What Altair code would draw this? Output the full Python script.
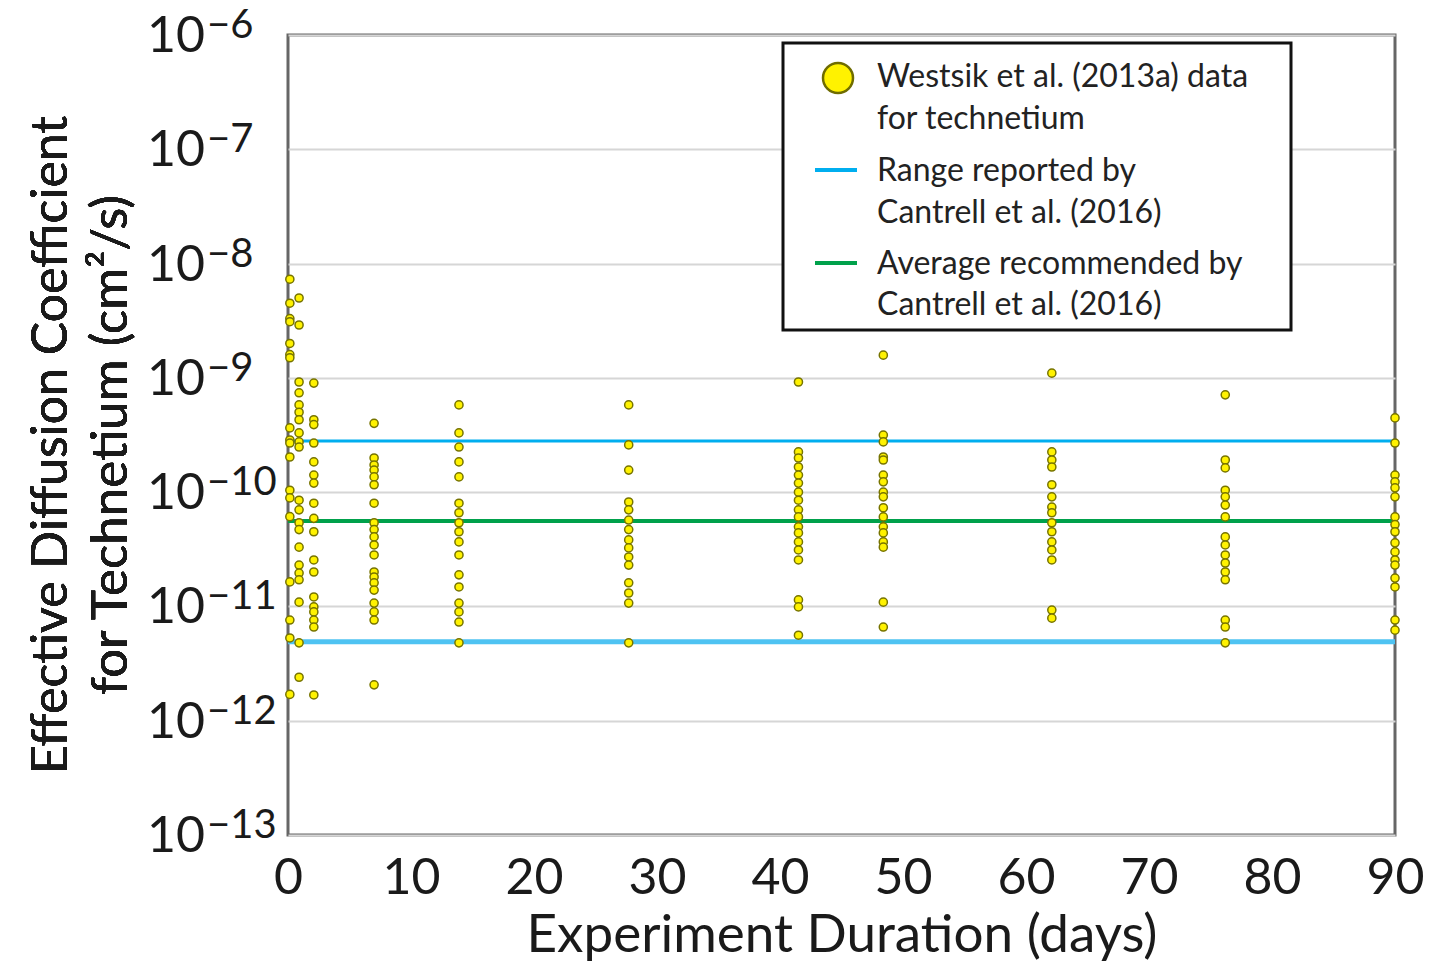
import altair as alt
import pandas as pd

FONT = "Lato"

# ---- data ----
days = [0.15, 0.9, 2.1, 7.0, 13.9, 27.7, 41.5, 48.4, 62.1, 76.2, 90.0]

day0 = [7.3e-9, 4.5e-9, 3.3e-9, 3.1e-9, 2.0e-9, 1.6e-9, 1.5e-9, 3.65e-10, 2.86e-10, 2.69e-10,
        2.03e-10, 1.04e-10, 8.9e-11, 6.1e-11, 1.64e-11, 7.6e-12, 5.3e-12, 1.7e-12]
day1 = [5.0e-9, 2.9e-9, 9.2e-10, 7.4e-10, 5.8e-10, 5.0e-10, 4.3e-10, 3.3e-10, 2.75e-10, 2.48e-10,
        8.5e-11, 7.0e-11, 5.4e-11, 4.7e-11, 3.3e-11, 2.3e-11, 1.96e-11, 1.71e-11, 1.09e-11,
        4.8e-12, 2.4e-12]
day2 = [9.0e-10, 4.3e-10, 3.9e-10, 2.69e-10, 1.84e-10, 1.41e-10, 1.2e-10, 8.0e-11, 5.9e-11, 4.5e-11,
        2.55e-11, 2.0e-11, 1.21e-11, 9.9e-12, 8.95e-12, 7.6e-12, 6.6e-12, 1.68e-12]
day7 = [4.0e-10, 1.99e-10, 1.73e-10, 1.56e-10, 1.36e-10, 1.16e-10, 8.0e-11, 5.4e-11, 4.7e-11,
        4.06e-11, 3.45e-11, 2.82e-11, 2.0e-11, 1.81e-11, 1.61e-11, 1.39e-11, 1.07e-11, 8.95e-12,
        7.6e-12, 2.06e-12]
day14 = [5.8e-10, 3.3e-10, 2.48e-10, 1.84e-10, 1.36e-10, 8.0e-11, 6.6e-11, 5.4e-11, 4.5e-11,
         3.67e-11, 2.82e-11, 1.89e-11, 1.48e-11, 1.07e-11, 8.95e-12, 7.3e-12, 4.8e-12]
day28 = [5.8e-10, 2.59e-10, 1.56e-10, 8.2e-11, 7.0e-11, 5.7e-11, 4.7e-11, 3.82e-11, 3.25e-11,
         2.71e-11, 2.3e-11, 1.61e-11, 1.31e-11, 1.07e-11, 4.8e-12]
day41 = [9.2e-10, 2.25e-10, 1.99e-10, 1.66e-10, 1.41e-10, 1.2e-10, 1.0e-10, 8.5e-11, 7.0e-11,
         6.07e-11, 4.97e-11, 4.4e-11, 3.67e-11, 3.12e-11, 2.55e-11, 1.14e-11, 9.9e-12, 5.6e-12]
day48 = [1.58e-9, 3.16e-10, 2.75e-10, 2.03e-10, 1.91e-10, 1.41e-10, 1.23e-10, 1.0e-10, 9.1e-11,
         7.3e-11, 6.07e-11, 4.97e-11, 4.4e-11, 3.67e-11, 3.3e-11, 1.09e-11, 6.6e-12]
day62 = [1.1e-9, 2.25e-10, 1.91e-10, 1.66e-10, 1.16e-10, 9.1e-11, 7.4e-11, 6.6e-11, 5.4e-11,
         4.5e-11, 3.67e-11, 3.12e-11, 2.55e-11, 9.3e-12, 7.9e-12]
day76 = [7.1e-10, 1.91e-10, 1.63e-10, 1.04e-10, 9.1e-11, 7.7e-11, 6.07e-11, 4.06e-11, 3.45e-11,
         2.82e-11, 2.4e-11, 2.0e-11, 1.71e-11, 7.6e-12, 6.6e-12, 4.8e-12]
day90 = [4.46e-10, 2.69e-10, 1.41e-10, 1.23e-10, 1.09e-10, 9.1e-11, 6.07e-11, 5.2e-11, 4.5e-11,
         3.6e-11, 3.0e-11, 2.55e-11, 2.3e-11, 1.77e-11, 1.48e-11, 7.6e-12, 6.2e-12]

series = [day0, day1, day2, day7, day14, day28, day41, day48, day62, day76, day90]

range_low = 4.9e-12
range_high = 2.8e-10
average = 5.6e-11

tick_values = [1e-6, 1e-7, 1e-8, 1e-9, 1e-10, 1e-11, 1e-12, 1e-13]
tick_exps = ["\u22126", "\u22127", "\u22128", "\u22129", "\u221210", "\u221211", "\u221212", "\u221213"]
x_ticks = [0, 10, 20, 30, 40, 50, 60, 70, 80, 90]

# ---- tables ----
rows = []
for d, vals in zip(days, series):
    for v in vals:
        rows.append({"day": d, "value": v})
pts = pd.DataFrame(rows)
ticks_df = pd.DataFrame({"value": tick_values, "exp": tick_exps})
blue_df = pd.DataFrame({"value": [range_high]})
blue2_df = pd.DataFrame({"value": [range_low]})
green_df = pd.DataFrame({"value": [average]})

yscale = alt.Scale(type="log", domain=[1e-13, 1e-6])
xscale = alt.Scale(domain=[0, 90], nice=False)
yaxis = alt.Axis(values=tick_values, labels=False, ticks=False, domain=False, grid=True,
                 gridColor="#d6d6d6", gridWidth=2, title=None)
Y = alt.Y("value:Q", scale=yscale, axis=yaxis)

points = alt.Chart(pts).mark_point(
    filled=True, shape="circle", size=66, fill="#FFF200", stroke="#777400",
    strokeWidth=1.5, opacity=1
).encode(
    x=alt.X("day:Q", scale=xscale,
            axis=alt.Axis(values=x_ticks, grid=False, ticks=False, domain=False,
                          labelFontSize=50, labelColor="#1a1a1a", labelFont=FONT,
                          labelPadding=18, labelFlush=False,
                          title="Experiment Duration (days)", titleFontSize=53,
                          titleFont=FONT, titleFontWeight="normal", titleColor="#1a1a1a",
                          titlePadding=6)),
    y=Y,
)

blue_top = alt.Chart(blue_df).mark_rule(color="#00AEEF", strokeWidth=3).encode(y=Y)
blue_bot = alt.Chart(blue2_df).mark_rule(color="#4FC3F2", strokeWidth=5).encode(y=Y)
green = alt.Chart(green_df).mark_rule(color="#00A14B", strokeWidth=4).encode(y=Y)

tick10 = alt.Chart(ticks_df).mark_text(
    text="10", align="right", baseline="middle", fontSize=50, font=FONT, color="#1a1a1a", dy=2
).encode(x=alt.value(-83), y=Y)
tickexp = alt.Chart(ticks_df).mark_text(
    align="left", baseline="middle", fontSize=40, font=FONT, color="#1a1a1a", dy=-9
).encode(x=alt.value(-81), y=Y, text="exp:N")

ytitle1 = alt.Chart(ticks_df).mark_text(
    text="Effective Diffusion Coefficient", angle=270, align="center", baseline="middle",
    fontSize=50, font=FONT, color="#1a1a1a"
).encode(x=alt.value(-236), y=alt.value(410))
ytitle2 = alt.Chart(ticks_df).mark_text(
    text="for Technetium (cm\u00b2/s)", angle=270, align="center", baseline="middle",
    fontSize=51, font=FONT, color="#1a1a1a"
).encode(x=alt.value(-176), y=alt.value(410))

# ---- legend box ----
leg_box = alt.Chart(blue_df).mark_rect(fill="white", stroke="#111111", strokeWidth=3).encode(
    x=alt.value(495), x2=alt.value(1003), y=alt.value(8), y2=alt.value(295))
leg_pt = alt.Chart(blue_df).mark_point(
    filled=True, shape="circle", size=900, fill="#FFF200", stroke="#6f6c00", strokeWidth=2.5,
    opacity=1).encode(x=alt.value(550), y=alt.value(43))
leg_blue = alt.Chart(blue_df).mark_rule(color="#00AEEF", strokeWidth=4).encode(
    x=alt.value(527), x2=alt.value(569), y=alt.value(135))
leg_green = alt.Chart(blue_df).mark_rule(color="#00A14B", strokeWidth=4).encode(
    x=alt.value(527), x2=alt.value(569), y=alt.value(228))

def leg_text(txt, ypos):
    return alt.Chart(blue_df).mark_text(
        text=txt, align="left", baseline="middle", fontSize=32, font=FONT, color="#222222"
    ).encode(x=alt.value(589), y=alt.value(ypos))

legend_texts = [
    leg_text("Westsik et al. (2013a) data", 42),
    leg_text("for technetium", 84),
    leg_text("Range reported by", 136),
    leg_text("Cantrell et al. (2016)", 178),
    leg_text("Average recommended by", 229),
    leg_text("Cantrell et al. (2016)", 270),
]

chart = alt.layer(
    blue_top, blue_bot, green, points, tick10, tickexp, ytitle1, ytitle2,
    leg_box, leg_pt, leg_blue, leg_green, *legend_texts
).properties(
    width=1107, height=800,
    autosize=alt.AutoSizeParams(type="none"),
    padding={"left": 280, "top": 27, "right": 30, "bottom": 126},
).configure(
    font=FONT, background="white"
).configure_view(
    stroke="#666666", strokeWidth=3
)

chart.save("out.html", embed_options={"renderer": "svg", "actions": False})
